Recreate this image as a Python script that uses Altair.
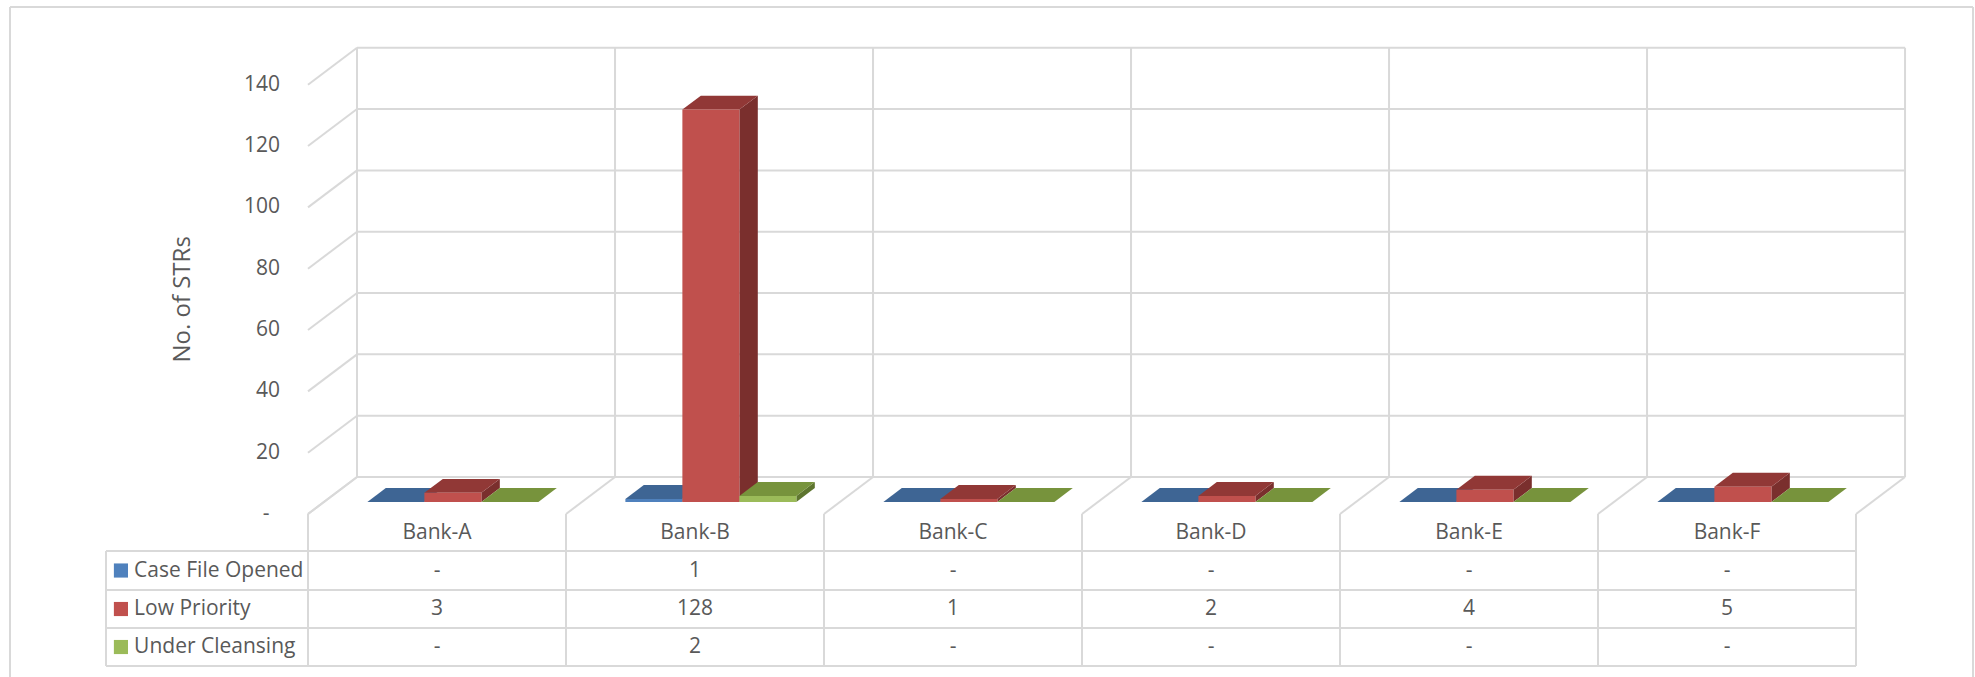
import altair as alt
import pandas as pd

# ---- data ----
banks = ["Bank-A", "Bank-B", "Bank-C", "Bank-D", "Bank-E", "Bank-F"]
series_names = ["Case File Opened", "Low Priority", "Under Cleansing"]
case_file_opened = [0, 1, 0, 0, 0, 0]
low_priority = [3, 128, 1, 2, 4, 5]
under_cleansing = [0, 2, 0, 0, 0, 0]
y_ticks = [0, 20, 40, 60, 80, 100, 120, 140]

# ---- styling ----
front_colors = ["#4F81BD", "#C0504D", "#9BBB59"]
top_colors = ["#3E6594", "#913836", "#77933C"]
side_colors = ["#2F4D72", "#7A2F2D", "#5E752F"]
GRID = "#D9D9D9"
TEXT = "#595959"
FONT = "Open Sans"
FS = 21

# ---- geometry (x in category slots, y in STR counts) ----
W, H = 1975, 677
X_DOMAIN = [-1.1938, 6.4612]
Y_DOMAIN = [-53.16, 167.64]
DEPTH_X = 0.19      # shift of the back wall along x
DEPTH_Y = 12.07     # shift of the back wall along y
BAR_D0, BAR_D1 = 0.324, 0.70   # depth band occupied by the columns
GAP = 0.1686
BAR_W = 0.2209
TABLE_LEFT = -0.783
ROW_LINES = [-12.07, -24.79, -37.18, -49.58]
Y_MAX = max(y_ticks)
N = len(banks)

xs = alt.Scale(domain=X_DOMAIN, nice=False, zero=False)
ys = alt.Scale(domain=Y_DOMAIN, nice=False, zero=False)


def X(f):
    return alt.X(f, type="quantitative", scale=xs, axis=None, stack=False)


def Y(f):
    return alt.Y(f, type="quantitative", scale=ys, axis=None, stack=False)


# ---- 3-D column faces ----
values_by_series = [case_file_opened, low_priority, under_cleansing]
fronts, tops, sides = [], [], []
ddx = (BAR_D1 - BAR_D0) * DEPTH_X
ddy = (BAR_D1 - BAR_D0) * DEPTH_Y
for k, bank in enumerate(banks):
    for j, name in enumerate(series_names):
        v = values_by_series[j][k]
        bar = f"{bank}|{name}"
        xa = k + GAP + j * BAR_W + BAR_D0 * DEPTH_X
        xb = xa + BAR_W
        yb = BAR_D0 * DEPTH_Y
        yt = v + yb
        fronts.append(dict(bar=bar, xa=xa, xb=xb, yb=yb, yt=yt, fill=front_colors[j]))
        tops.append(dict(bar=bar, ty=yt, tx=xa, tx2=xb, fill=top_colors[j]))
        tops.append(dict(bar=bar, ty=yt + ddy, tx=xa + ddx, tx2=xb + ddx, fill=top_colors[j]))
        sides.append(dict(bar=bar, sx=xb, sy=yb, sy2=yt, fill=side_colors[j]))
        sides.append(dict(bar=bar, sx=xb + ddx, sy=yb + ddy, sy2=yt + ddy, fill=side_colors[j]))

front_df = pd.DataFrame(fronts)
top_df = pd.DataFrame(tops)
side_df = pd.DataFrame(sides)

# ---- walls, floor and data-table grid ----
segs = []
for v in y_ticks:
    segs.append(dict(x=DEPTH_X, x2=N + DEPTH_X, y=v + DEPTH_Y, y2=v + DEPTH_Y))  # back wall
    segs.append(dict(x=0, x2=DEPTH_X, y=v, y2=v + DEPTH_Y))                      # side ticks
for k in range(N + 1):
    segs.append(dict(x=k + DEPTH_X, x2=k + DEPTH_X, y=DEPTH_Y, y2=Y_MAX + DEPTH_Y))
    segs.append(dict(x=k, x2=k + DEPTH_X, y=0, y2=DEPTH_Y))                       # floor
    segs.append(dict(x=k, x2=k, y=0, y2=ROW_LINES[-1]))                           # table columns
for r in ROW_LINES:
    segs.append(dict(x=TABLE_LEFT, x2=N, y=r, y2=r))
segs.append(dict(x=TABLE_LEFT, x2=TABLE_LEFT, y=ROW_LINES[0], y2=ROW_LINES[-1]))
seg_df = pd.DataFrame(segs)

grid = alt.Chart(seg_df).mark_rule(color=GRID, strokeWidth=2).encode(
    x=X("x"), x2="x2", y=Y("y"), y2="y2"
)

side_layer = alt.Chart(side_df).mark_area(orient="vertical").encode(
    x=X("sx"), y=Y("sy"), y2="sy2", detail="bar:N",
    color=alt.Color("fill:N", scale=None),
)
top_layer = alt.Chart(top_df).mark_area(orient="horizontal").encode(
    y=Y("ty"), x=X("tx"), x2="tx2", detail="bar:N",
    color=alt.Color("fill:N", scale=None),
)
front_layer = alt.Chart(front_df).mark_rect().encode(
    x=X("xa"), x2="xb", y=Y("yb"), y2="yt",
    color=alt.Color("fill:N", scale=None),
)

# ---- value axis labels and title ----
tick_df = pd.DataFrame({"x": [0] * len(y_ticks), "v": y_ticks,
                        "label": ["-" if t == 0 else str(t) for t in y_ticks]})
tick_text = alt.Chart(tick_df).transform_filter("datum.v > 0").mark_text(
    align="right", baseline="middle", dx=-28, fontSize=FS, font=FONT, color=TEXT
).encode(x=X("x"), y=Y("v"), text="label:N")
zero_text = alt.Chart(tick_df).transform_filter("datum.v == 0").mark_text(
    align="center", baseline="middle", dx=-42, fontSize=FS, font=FONT, color=TEXT
).encode(x=X("x"), y=Y("v"), text="label:N")

title_df = pd.DataFrame({"x": [-0.4845], "y": [Y_MAX / 2], "t": ["No. of STRs"]})
title_text = alt.Chart(title_df).mark_text(
    angle=270, align="center", baseline="middle", fontSize=24, font=FONT, color=TEXT
).encode(x=X("x"), y=Y("y"), text="t:N")

# ---- data table ----
cat_df = pd.DataFrame({"x": [k + 0.5 for k in range(N)], "y": [ROW_LINES[0] / 2] * N, "bank": banks})
cat_text = alt.Chart(cat_df).mark_text(
    align="center", baseline="middle", fontSize=FS, font=FONT, color=TEXT
).encode(x=X("x"), y=Y("y"), text="bank:N")

row_mid = [(ROW_LINES[i] + ROW_LINES[i + 1]) / 2 for i in range(len(series_names))]
legend_df = pd.DataFrame({"name": series_names, "y": row_mid, "fill": front_colors,
                          "sx": [-0.725] * 3, "tx": [-0.674] * 3})
legend_sq = alt.Chart(legend_df).mark_square(size=200, opacity=1).encode(
    x=X("sx"), y=Y("y"), color=alt.Color("fill:N", scale=None)
)
legend_txt = alt.Chart(legend_df).mark_text(
    align="left", baseline="middle", fontSize=FS, font=FONT, color=TEXT
).encode(x=X("tx"), y=Y("y"), text="name:N")

cells = []
for j, name in enumerate(series_names):
    for k in range(N):
        v = values_by_series[j][k]
        cells.append(dict(x=k + 0.5, y=row_mid[j], label="-" if v == 0 else str(v)))
cell_df = pd.DataFrame(cells)
cell_text = alt.Chart(cell_df).mark_text(
    align="center", baseline="middle", fontSize=FS, font=FONT, color=TEXT
).encode(x=X("x"), y=Y("y"), text="label:N")

# ---- outer frame ----
frame_left = alt.Chart().mark_rule(color=GRID, strokeWidth=2).encode(
    x=alt.value(10), y=alt.value(7), y2=alt.value(H))
frame_top = alt.Chart().mark_rule(color=GRID, strokeWidth=2).encode(
    x=alt.value(10), x2=alt.value(1973), y=alt.value(7))
frame_right = alt.Chart().mark_rule(color=GRID, strokeWidth=2).encode(
    x=alt.value(1973), y=alt.value(7), y2=alt.value(H))

chart = alt.layer(
    frame_left, frame_top, frame_right,
    grid, side_layer, top_layer, front_layer,
    tick_text, zero_text, title_text, cat_text,
    legend_sq, legend_txt, cell_text,
).properties(
    width=W, height=H, padding=0,
    autosize=alt.AutoSizeParams(type="none"),
    background="white",
).configure_view(stroke=None)

chart.save("out.html", embed_options={"renderer": "svg", "actions": False})
